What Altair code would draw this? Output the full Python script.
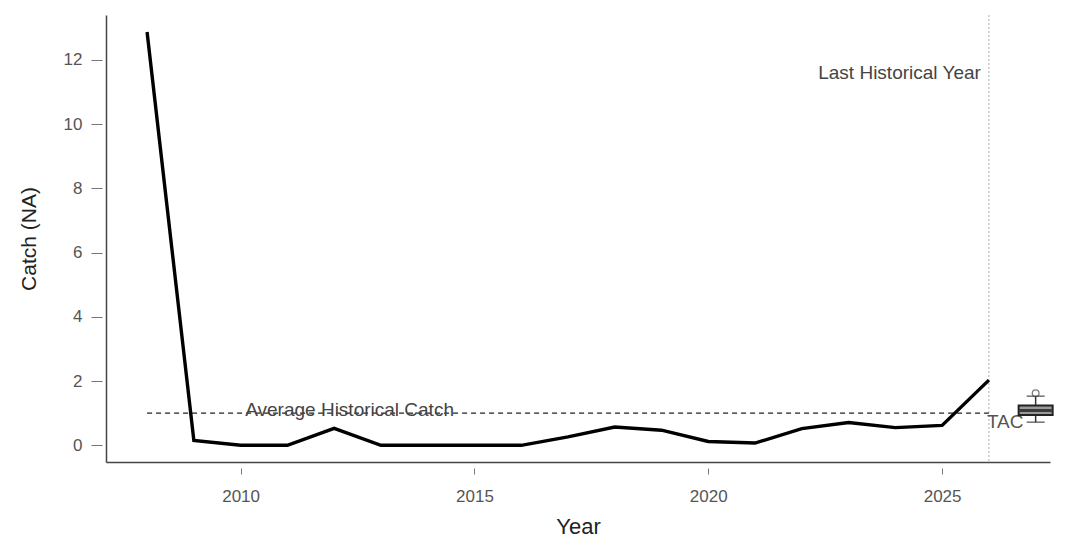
import altair as alt
import pandas as pd

years = list(range(2008, 2027))
catch = [12.87, 0.15, 0.0, 0.0, 0.53, 0.0, 0.0, 0.0, 0.0, 0.26,
         0.57, 0.47, 0.12, 0.07, 0.52, 0.71, 0.55, 0.62, 2.03]

avg_catch = 1.0
avg_start, avg_end = 2008, 2026
last_hist_year = 2026

tac_year = [2027]
tac_q1 = [0.94]
tac_median = [1.08]
tac_q3 = [1.24]
tac_lo = [0.72]
tac_hi = [1.53]
tac_outlier = [1.62]

labels = ["Average Historical Catch", "Last Historical Year", "TAC"]
label_x = [2012.33, 2026, 2026]
label_y = [1.0, 11.6, 0.72]

FONT = "Liberation Sans"
xs = alt.Scale(domain=[2007.2285, 2027.2], nice=False, zero=False)
ys = alt.Scale(domain=[-0.52, 13.40], nice=False, zero=False)

df = pd.DataFrame({"Year": years, "Catch": catch})
avg_df = pd.DataFrame({"x": [avg_start], "x2": [avg_end], "y": [avg_catch]})
box_df = pd.DataFrame({"x": tac_year, "q1": tac_q1, "med": tac_median, "q3": tac_q3,
                       "lo": tac_lo, "hi": tac_hi, "out": tac_outlier})

x_axis = alt.Axis(values=[2010, 2015, 2020, 2025], format="d", grid=False,
                  domainColor="#444", domainWidth=1.5, tickColor="#777",
                  tickSize=12, tickDash=[0, 6, 6, 0], labelColor="#555",
                  labelFont=FONT, labelFontSize=17, labelPadding=14,
                  title="Year", titleFont=FONT, titleFontSize=22,
                  titleFontWeight="normal", titleColor="#222", titlePadding=12)
y_axis = alt.Axis(values=[0, 2, 4, 6, 8, 10, 12], grid=False,
                  domainColor="#444", domainWidth=1.5, tickColor="#777",
                  tickSize=15, tickDash=[0, 4, 11, 0], labelColor="#555",
                  labelFont=FONT, labelFontSize=17, labelPadding=9,
                  title="Catch (NA)", titleFont=FONT, titleFontSize=21,
                  titleFontWeight="normal", titleColor="#222", titlePadding=24)

base_line = alt.Chart(df).mark_line(color="black", strokeWidth=3.4).encode(
    x=alt.X("Year:Q", scale=xs, axis=x_axis),
    y=alt.Y("Catch:Q", scale=ys, axis=y_axis),
)

vline = alt.Chart(pd.DataFrame({"x": [last_hist_year]})).mark_rule(
    color="#bbb", strokeDash=[2, 2], strokeWidth=1.2).encode(
    x=alt.X("x:Q", scale=xs), y=alt.value(0), y2=alt.value(447))

avg_line = alt.Chart(avg_df).mark_rule(color="#222", strokeDash=[5, 4], strokeWidth=1.2).encode(
    x=alt.X("x:Q", scale=xs), x2="x2:Q", y=alt.Y("y:Q", scale=ys))

lab_df = pd.DataFrame({"t": labels, "x": label_x, "y": label_y})
t_avg = alt.Chart(lab_df.iloc[[0]]).mark_text(
    font=FONT, fontSize=19, color="#444", align="center", baseline="middle", dy=-3).encode(
    x=alt.X("x:Q", scale=xs), y=alt.Y("y:Q", scale=ys), text="t:N")
t_last = alt.Chart(lab_df.iloc[[1]]).mark_text(
    font=FONT, fontSize=19, color="#444", align="right", baseline="middle", dx=-8).encode(
    x=alt.X("x:Q", scale=xs), y=alt.Y("y:Q", scale=ys), text="t:N")
t_tac = alt.Chart(lab_df.iloc[[2]]).mark_text(
    font=FONT, fontSize=19, color="#555", align="left", baseline="middle", dx=-2).encode(
    x=alt.X("x:Q", scale=xs), y=alt.Y("y:Q", scale=ys), text="t:N")

whisk_lo = alt.Chart(box_df).mark_rule(color="#333", strokeWidth=1.5).encode(
    x=alt.X("x:Q", scale=xs), y=alt.Y("lo:Q", scale=ys), y2="q1:Q")
whisk_hi = alt.Chart(box_df).mark_rule(color="#333", strokeWidth=1.5).encode(
    x=alt.X("x:Q", scale=xs), y=alt.Y("q3:Q", scale=ys), y2="hi:Q")
cap_lo = alt.Chart(box_df).mark_tick(color="#333", thickness=1.5, size=18, orient="horizontal").encode(
    x=alt.X("x:Q", scale=xs), y=alt.Y("lo:Q", scale=ys))
cap_hi = alt.Chart(box_df).mark_tick(color="#333", thickness=1.5, size=18, orient="horizontal").encode(
    x=alt.X("x:Q", scale=xs), y=alt.Y("hi:Q", scale=ys))
box = alt.Chart(box_df).mark_bar(size=34, color="#9a9a9a", stroke="#222", strokeWidth=2).encode(
    x=alt.X("x:Q", scale=xs), y=alt.Y("q1:Q", scale=ys), y2="q3:Q")
med = alt.Chart(box_df).mark_tick(color="#111", thickness=3, size=32, orient="horizontal").encode(
    x=alt.X("x:Q", scale=xs), y=alt.Y("med:Q", scale=ys))
outl = alt.Chart(box_df).mark_point(color="#444", filled=False, size=45, strokeWidth=1.3).encode(
    x=alt.X("x:Q", scale=xs), y=alt.Y("out:Q", scale=ys))

chart = alt.layer(
    vline, avg_line, base_line, t_avg, t_last, t_tac,
    whisk_lo, whisk_hi, cap_lo, cap_hi, box, med, outl
).properties(
    width=944, height=447,
    autosize=alt.AutoSizeParams(type="none"),
    padding={"left": 98, "top": 7, "right": 8, "bottom": 78},
    background="white",
).configure_view(stroke=None)

chart.save("out.html", embed_options={"renderer": "svg", "actions": False})
